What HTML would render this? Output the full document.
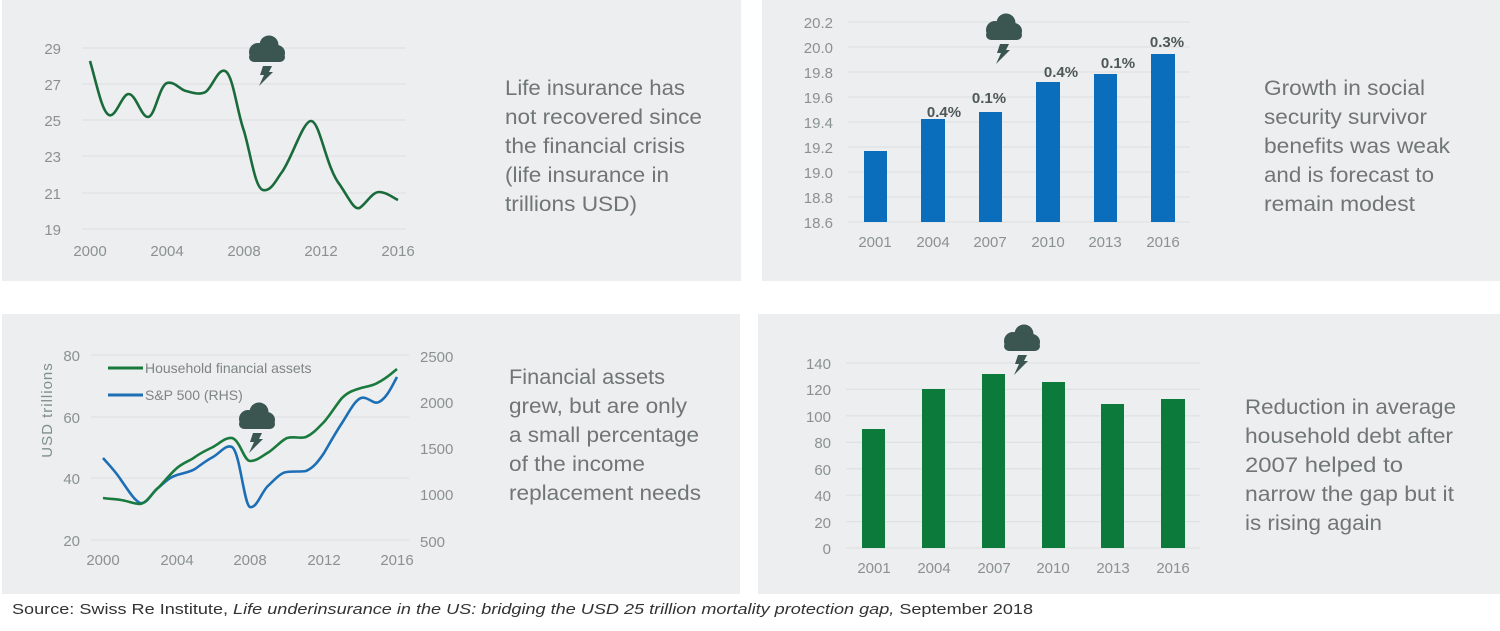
<!DOCTYPE html>
<html><head><meta charset="utf-8"><style>
html,body{margin:0;padding:0;background:#fff;}
svg{display:block;}
text{font-family:"Liberation Sans",sans-serif;}
.ax{font-size:15px;fill:#8a9290;}
.p{font-size:21px;fill:#6f7675;}
.lg{font-size:14px;fill:#7d8583;}
.bl{font-size:15px;fill:#4d5756;font-weight:bold;}
.g{stroke:#dfe2e3;stroke-width:1.3;}
</style></head><body>
<svg width="1500" height="631" viewBox="0 0 1500 631" xmlns="http://www.w3.org/2000/svg">
<defs>
<g id="cloud">
<circle cx="-8" cy="2" r="9" fill="#3b5550"/>
<circle cx="3" cy="-5" r="9.5" fill="#3b5550"/>
<circle cx="11" cy="3" r="8" fill="#3b5550"/>
<rect x="-17" y="2" width="36" height="10" rx="5" fill="#3b5550"/>
<polygon points="-3,16 6,16 3,22 7,22 -7,36 -2,25 -6,25" fill="#3b5550"/>
</g>
</defs>
<!-- panels -->
<rect x="2" y="0" width="739" height="281" fill="#edeeef"/>
<rect x="762" y="0" width="738" height="281" fill="#edeeef"/>
<rect x="2" y="314" width="738" height="280" fill="#edeeef"/>
<rect x="758" y="314" width="742" height="280" fill="#edeeef"/>

<!-- TL -->
<g>
<line class="g" x1="82" x2="406" y1="48" y2="48"/>
<line class="g" x1="82" x2="406" y1="84" y2="84"/>
<line class="g" x1="82" x2="406" y1="120" y2="120"/>
<line class="g" x1="82" x2="406" y1="156" y2="156"/>
<line class="g" x1="82" x2="406" y1="193" y2="193"/>
<line class="g" x1="82" x2="406" y1="229" y2="229"/>
<g class="ax" text-anchor="end">
<text x="61" y="54">29</text><text x="61" y="90">27</text><text x="61" y="126">25</text>
<text x="61" y="162">23</text><text x="61" y="199">21</text><text x="61" y="235">19</text>
</g>
<g class="ax" text-anchor="middle">
<text x="90" y="256">2000</text><text x="167" y="256">2004</text><text x="244" y="256">2008</text>
<text x="321" y="256">2012</text><text x="398" y="256">2016</text>
</g>
<path d="M90,61 C97,85 102,112 109,115 C116,118 122,94 128.5,94 C136,94 141,117 148,117 C155,117 159,86 167,83 C175,81 180,90 186,91 C193,93 200,95 205.5,92 C212,88 218,68 225,71 C233,74 237,112 244,131 C251,155 255,188 263,190 C271,192 276,180 282,172 C292,158 303,121 311,121 C320,121 326,168 340,185 C350,200 354,210 359.5,208 C366,204 372,192 379,192 C386,192 392,197 398,200" fill="none" stroke="#1a6b3c" stroke-width="2.6"/>
<use href="#cloud" x="266" y="50"/>
<g class="p">
<text x="505" y="95" textLength="180" lengthAdjust="spacingAndGlyphs">Life insurance has</text>
<text x="505" y="124" textLength="197" lengthAdjust="spacingAndGlyphs">not recovered since</text>
<text x="505" y="153" textLength="180" lengthAdjust="spacingAndGlyphs">the financial crisis</text>
<text x="505" y="182" textLength="164" lengthAdjust="spacingAndGlyphs">(life insurance in</text>
<text x="505" y="211" textLength="132" lengthAdjust="spacingAndGlyphs">trillions USD)</text>
</g>
</g>

<!-- TR -->
<g>
<line class="g" x1="848" x2="1190" y1="22" y2="22"/>
<line class="g" x1="848" x2="1190" y1="47" y2="47"/>
<line class="g" x1="848" x2="1190" y1="72" y2="72"/>
<line class="g" x1="848" x2="1190" y1="97" y2="97"/>
<line class="g" x1="848" x2="1190" y1="122" y2="122"/>
<line class="g" x1="848" x2="1190" y1="147" y2="147"/>
<line class="g" x1="848" x2="1190" y1="172" y2="172"/>
<line class="g" x1="848" x2="1190" y1="197" y2="197"/>
<line class="g" x1="848" x2="1190" y1="222" y2="222"/>
<g class="ax" text-anchor="end">
<text x="833" y="28">20.2</text><text x="833" y="53">20.0</text><text x="833" y="78">19.8</text>
<text x="833" y="103">19.6</text><text x="833" y="128">19.4</text><text x="833" y="153">19.2</text>
<text x="833" y="178">19.0</text><text x="833" y="203">18.8</text><text x="833" y="228">18.6</text>
</g>
<g fill="#0a6ebd">
<rect x="864" y="151" width="23" height="71"/>
<rect x="921" y="119" width="24" height="103"/>
<rect x="979" y="112" width="23" height="110"/>
<rect x="1036" y="82" width="24" height="140"/>
<rect x="1094" y="74" width="23" height="148"/>
<rect x="1151" y="54" width="24" height="168"/>
</g>
<g class="bl" text-anchor="middle">
<text x="944" y="117">0.4%</text><text x="989" y="103">0.1%</text><text x="1061" y="77">0.4%</text>
<text x="1118" y="68">0.1%</text><text x="1167" y="47">0.3%</text>
</g>
<g class="ax" text-anchor="middle">
<text x="875" y="247">2001</text><text x="933" y="247">2004</text><text x="990" y="247">2007</text>
<text x="1048" y="247">2010</text><text x="1105" y="247">2013</text><text x="1163" y="247">2016</text>
</g>
<use href="#cloud" x="1003" y="28"/>
<g class="p">
<text x="1264" y="95" textLength="161" lengthAdjust="spacingAndGlyphs">Growth in social</text>
<text x="1264" y="124" textLength="163" lengthAdjust="spacingAndGlyphs">security survivor</text>
<text x="1264" y="153" textLength="186" lengthAdjust="spacingAndGlyphs">benefits was weak</text>
<text x="1264" y="182" textLength="170" lengthAdjust="spacingAndGlyphs">and is forecast to</text>
<text x="1264" y="211" textLength="151" lengthAdjust="spacingAndGlyphs">remain modest</text>
</g>
</g>

<!-- BL -->
<g>
<line class="g" x1="91" x2="409" y1="355" y2="355"/>
<line class="g" x1="91" x2="409" y1="417" y2="417"/>
<line class="g" x1="91" x2="409" y1="478" y2="478"/>
<line class="g" x1="91" x2="409" y1="540" y2="540"/>
<g class="ax" text-anchor="end">
<text x="80" y="361">80</text><text x="80" y="423">60</text><text x="80" y="484">40</text><text x="80" y="546">20</text>
</g>
<g class="ax" text-anchor="start">
<text x="420" y="362">2500</text><text x="420" y="408">2000</text><text x="420" y="454">1500</text>
<text x="420" y="500">1000</text><text x="420" y="547">500</text>
</g>
<text x="0" y="0" transform="translate(52,410) rotate(-90)" text-anchor="middle" style="font-size:15px;fill:#7f908a;letter-spacing:1px">USD trillions</text>
<g class="ax" text-anchor="middle">
<text x="103" y="565">2000</text><text x="177" y="565">2004</text><text x="250" y="565">2008</text>
<text x="324" y="565">2012</text><text x="397" y="565">2016</text>
</g>
<path d="M103,458 C110,466 116,472 121,480 C128,490 134,500 140,503 C147,505 152,492 158,488 C165,482 170,477 177,475 C184,473 190,472 195,469 C202,464 207,460 213,457 C220,453 226,444 232,447 C240,452 244,505 250,507 C257,509 262,490 269,485 C276,478 282,472 287,472 C295,471 300,472 306,471 C313,468 318,462 324,453 C331,441 336,432 342,423 C349,412 355,400 361,398 C368,396 373,405 379,402 C387,398 392,386 397,377" fill="none" stroke="#1c6eb5" stroke-width="2.6"/>
<path d="M103,498 C110,499 116,499 121,500 C128,501 134,504 140,504 C147,503 152,493 158,488 C165,481 170,474 177,468 C184,462 190,461 195,457 C202,452 207,450 213,447 C220,443 226,437 232,438 C240,440 244,461 250,461 C257,461 262,456 269,452 C276,447 282,440 287,438 C295,436 300,439 306,437 C313,434 318,428 324,422 C331,414 336,405 342,398 C349,391 355,390 361,388 C368,386 373,386 379,382 C387,378 392,373 397,369" fill="none" stroke="#1a7a3e" stroke-width="2.6"/>
<line x1="108" x2="143" y1="368" y2="368" stroke="#1a7a3e" stroke-width="3"/>
<text class="lg" x="145" y="373">Household financial assets</text>
<line x1="108" x2="143" y1="395" y2="395" stroke="#1c6eb5" stroke-width="3"/>
<text class="lg" x="145" y="400">S&amp;P 500 (RHS)</text>
<use href="#cloud" x="256" y="417"/>
<g class="p">
<text x="509" y="384" textLength="156" lengthAdjust="spacingAndGlyphs">Financial assets</text>
<text x="509" y="413" textLength="178" lengthAdjust="spacingAndGlyphs">grew, but are only</text>
<text x="509" y="442" textLength="190" lengthAdjust="spacingAndGlyphs">a small percentage</text>
<text x="509" y="471" textLength="136" lengthAdjust="spacingAndGlyphs">of the income</text>
<text x="509" y="500" textLength="192" lengthAdjust="spacingAndGlyphs">replacement needs</text>
</g>
</g>

<!-- BR -->
<g>
<line class="g" x1="846" x2="1200" y1="363" y2="363"/>
<line class="g" x1="846" x2="1200" y1="389.4" y2="389.4"/>
<line class="g" x1="846" x2="1200" y1="415.9" y2="415.9"/>
<line class="g" x1="846" x2="1200" y1="442.3" y2="442.3"/>
<line class="g" x1="846" x2="1200" y1="468.7" y2="468.7"/>
<line class="g" x1="846" x2="1200" y1="495.1" y2="495.1"/>
<line class="g" x1="846" x2="1200" y1="521.6" y2="521.6"/>
<line class="g" x1="846" x2="1200" y1="548" y2="548"/>
<g class="ax" text-anchor="end">
<text x="831" y="369">140</text><text x="831" y="395">120</text><text x="831" y="422">100</text>
<text x="831" y="448">80</text><text x="831" y="475">60</text><text x="831" y="501">40</text>
<text x="831" y="528">20</text><text x="831" y="554">0</text>
</g>
<g fill="#0b7a3a">
<rect x="862" y="429" width="23" height="119"/>
<rect x="922" y="389" width="23" height="159"/>
<rect x="982" y="374" width="23" height="174"/>
<rect x="1042" y="382" width="23" height="166"/>
<rect x="1101" y="404" width="23" height="144"/>
<rect x="1161" y="399" width="24" height="149"/>
</g>
<g class="ax" text-anchor="middle">
<text x="874" y="573">2001</text><text x="934" y="573">2004</text><text x="994" y="573">2007</text>
<text x="1053" y="573">2010</text><text x="1113" y="573">2013</text><text x="1173" y="573">2016</text>
</g>
<use href="#cloud" x="1021" y="339"/>
<g class="p">
<text x="1245" y="414" textLength="211" lengthAdjust="spacingAndGlyphs">Reduction in average</text>
<text x="1245" y="443" textLength="208" lengthAdjust="spacingAndGlyphs">household debt after</text>
<text x="1245" y="472" textLength="158" lengthAdjust="spacingAndGlyphs">2007 helped to</text>
<text x="1245" y="501" textLength="209" lengthAdjust="spacingAndGlyphs">narrow the gap but it</text>
<text x="1245" y="530" textLength="137" lengthAdjust="spacingAndGlyphs">is rising again</text>
</g>
</g>

<text x="12" y="614" textLength="1021" lengthAdjust="spacingAndGlyphs" style="font-size:15px;fill:#333">Source: Swiss Re Institute, <tspan font-style="italic">Life underinsurance in the US: bridging the USD 25 trillion mortality protection gap,</tspan> September 2018</text>
</svg>
</body></html>
